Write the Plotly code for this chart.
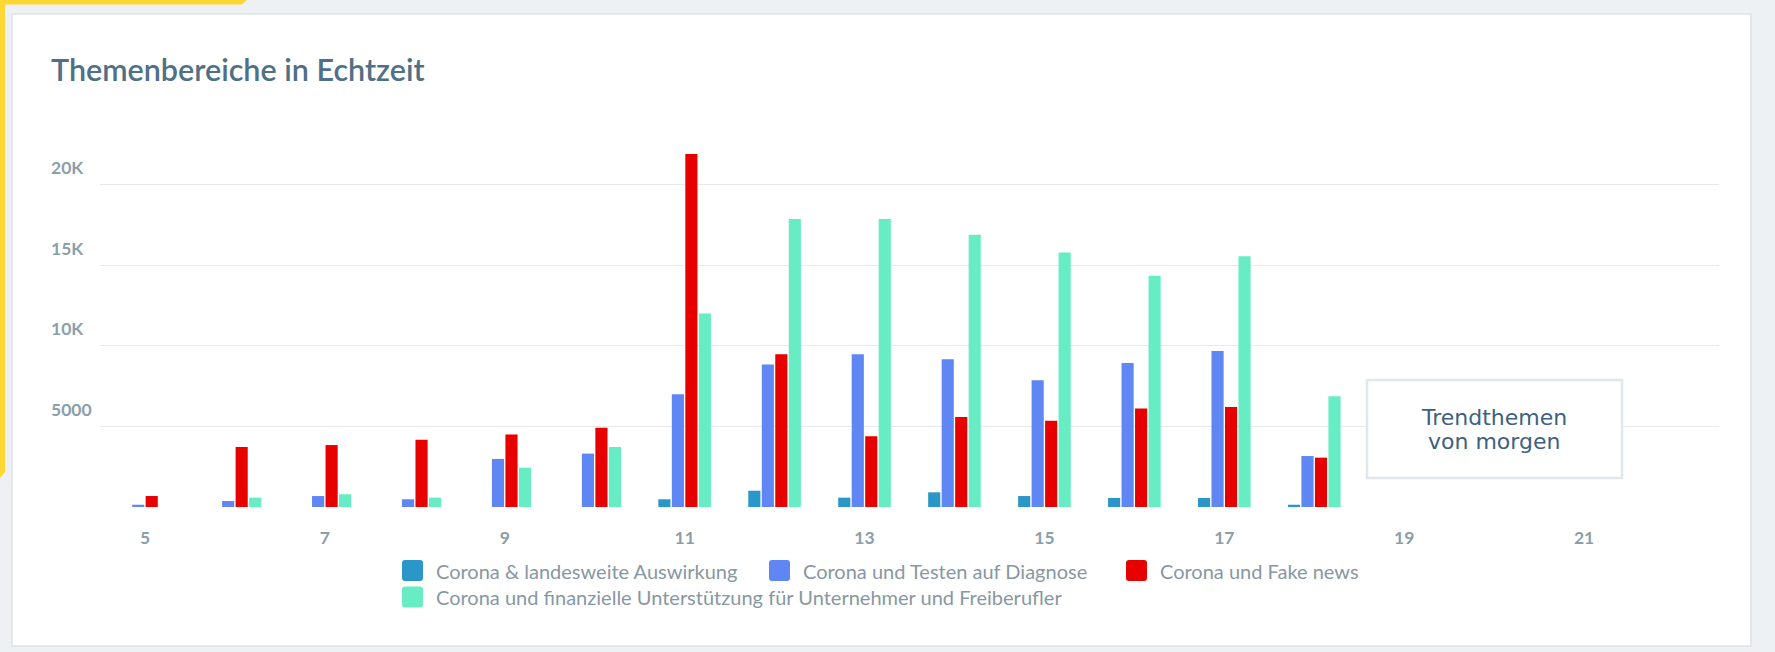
import plotly.graph_objects as go

# ---------------- data ----------------
categories = [5, 6, 7, 8, 9, 10, 11, 12, 13, 14, 15, 16, 17, 18]
series_names = [
    "Corona & landesweite Auswirkung",
    "Corona und Testen auf Diagnose",
    "Corona und Fake news",
    "Corona und finanzielle Unterstützung für Unternehmer und Freiberufler",
]
s_landesweit = [0, 0, 0, 0, 0, 0, 480, 1010, 580, 910, 680, 560, 560, 140]
s_testen = [140, 370, 680, 480, 2980, 3310, 6990, 8830, 9470, 9160, 7860, 8930, 9670, 3160]
s_fake = [680, 3720, 3840, 4170, 4500, 4920, 21880, 9470, 4380, 5580, 5350, 6100, 6200, 3060]
s_finanz = [0, 580, 790, 580, 2440, 3720, 12000, 17850, 17850, 16880, 15770, 14340, 15540, 6860]
series_values = [s_landesweit, s_testen, s_fake, s_finanz]

x_tick_vals = [5, 7, 9, 11, 13, 15, 17, 19, 21]
x_tick_text = ["5", "7", "9", "11", "13", "15", "17", "19", "21"]
y_grid_vals = [0, 5000, 10000, 15000, 20000]
y_label_vals = [5000, 10000, 15000, 20000]
y_label_text = ["5000", "10K", "15K", "20K"]

title_text = "Themenbereiche in Echtzeit"
box_lines = ["Trendthemen", "von morgen"]

# ---------------- styles ----------------
colors = ["#2b96c8", "#5f86f2", "#e60000", "#67ecc3"]
W, H = 1775, 652
ML, MR, MT, MB = 100, 56, 136, 145
PW = W - ML - MR
PH = H - MT - MB
FONT = "Lato"
label_color = "#8a9eab"


def px_x(x):
    return (x - ML) / PW


def px_y(y):
    return (H - MB - y) / PH


fig = go.Figure()
for name, vals, col in zip(series_names, series_values, colors):
    fig.add_trace(go.Bar(
        x=categories, y=vals, name=name,
        marker=dict(color=col, line=dict(width=0)),
        showlegend=False,
    ))

shapes = []
annotations = []

# card background + border
shapes.append(dict(type="rect", xref="paper", yref="paper",
                   x0=px_x(12), x1=px_x(1751), y0=px_y(646), y1=px_y(14),
                   fillcolor="white", line=dict(color="#dde2e6", width=1.5),
                   layer="below"))


def poly(points):
    return "M " + " L ".join(f"{px_x(a):.5f},{px_y(b):.5f}" for a, b in points) + " Z"


# yellow accent strips
shapes.append(dict(type="path", xref="paper", yref="paper",
                   path=poly([(0, 0), (247, 0), (242, 4.5), (0, 4.5)]),
                   fillcolor="#fed735", line=dict(width=0), layer="below"))
shapes.append(dict(type="path", xref="paper", yref="paper",
                   path=poly([(0, 0), (5, 0), (5, 472), (0, 478)]),
                   fillcolor="#fed735", line=dict(width=0), layer="below"))

# "Trendthemen von morgen" box
shapes.append(dict(type="rect", xref="paper", yref="paper",
                   x0=px_x(1367), x1=px_x(1622), y0=px_y(478), y1=px_y(380),
                   fillcolor="white", line=dict(color="#e1e8ed", width=2.5),
                   layer="above"))
for txt, yy in zip(box_lines, [417, 441]):
    annotations.append(dict(text=txt, xref="paper", yref="paper",
                            x=px_x(1494), y=px_y(yy), xanchor="center", yanchor="middle",
                            showarrow=False,
                            font=dict(family="DejaVu Sans", size=22, color="#3d6180")))

# title
annotations.append(dict(text=title_text, xref="paper", yref="paper",
                        x=px_x(49), y=px_y(69), xanchor="left", yanchor="middle",
                        showarrow=False,
                        font=dict(family=FONT, size=30.5, weight=600, color="#4f7086")))

# y labels (left aligned, above gridlines)
for v, t in zip(y_label_vals, y_label_text):
    annotations.append(dict(text=t, xref="paper", yref="y",
                            x=px_x(49), y=v, xanchor="left", yanchor="middle",
                            yshift=17, showarrow=False,
                            font=dict(family=FONT, size=17.5, weight=700, color=label_color)))

# manual legend
icon_centers = [(412.5, 570.5), (779.5, 570.5), (1136.5, 570.5), (412.5, 597)]
h, r = 10.5, 3
icon_path = (f"M {-h + r},{-h} L {h - r},{-h} Q {h},{-h} {h},{-h + r} L {h},{h - r} "
             f"Q {h},{h} {h - r},{h} L {-h + r},{h} Q {-h},{h} {-h},{h - r} "
             f"L {-h},{-h + r} Q {-h},{-h} {-h + r},{-h} Z")
for (cx, cy), name, col in zip(icon_centers, series_names, colors):
    shapes.append(dict(type="path", xref="paper", yref="paper",
                       xsizemode="pixel", ysizemode="pixel",
                       xanchor=px_x(cx), yanchor=px_y(cy), path=icon_path,
                       fillcolor=col, line=dict(width=0), layer="above"))
    annotations.append(dict(text=name, xref="paper", yref="paper",
                            x=px_x(cx + 21.5), y=px_y(cy), xanchor="left", yanchor="middle",
                            showarrow=False,
                            font=dict(family=FONT, size=20, color="#8797a3")))

fig.update_layout(
    width=W, height=H,
    margin=dict(l=ML, r=MR, t=MT, b=MB, pad=0),
    paper_bgcolor="#edf1f4",
    plot_bgcolor="white",
    barmode="group",
    bargap=0.4,
    bargroupgap=0.1,
    showlegend=False,
    shapes=shapes,
    annotations=annotations,
    xaxis=dict(range=[4.5, 22.5], tickvals=x_tick_vals, ticktext=x_tick_text,
               showgrid=False, zeroline=False, showline=False, ticks="",
               ticklabelstandoff=18,
               tickfont=dict(family=FONT, size=17.5, weight=700, color=label_color),
               fixedrange=True),
    yaxis=dict(range=[0, 23000], tickvals=y_grid_vals, showticklabels=False,
               showgrid=True, gridcolor="#e6eaee", gridwidth=1,
               zeroline=False, showline=False, ticks="", fixedrange=True),
)

fig.write_html("out.html")
